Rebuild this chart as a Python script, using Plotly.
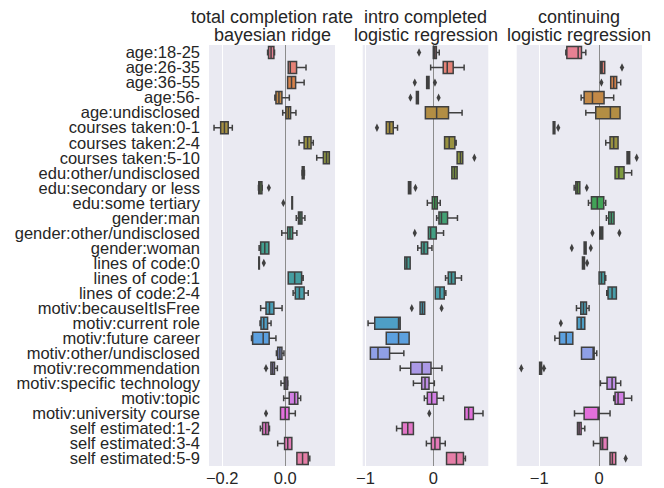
import math
import colorsys
import plotly.graph_objects as go

# ---------------- data ----------------
categories = [
    "age:18-25", "age:26-35", "age:36-55", "age:56-", "age:undisclosed",
    "courses taken:0-1", "courses taken:2-4", "courses taken:5-10",
    "edu:other/undisclosed", "edu:secondary or less", "edu:some tertiary",
    "gender:man", "gender:other/undisclosed", "gender:woman",
    "lines of code:0", "lines of code:1", "lines of code:2-4",
    "motiv:becauseItIsFree", "motiv:current role", "motiv:future career",
    "motiv:other/undisclosed", "motiv:recommendation", "motiv:specific technology",
    "motiv:topic", "motiv:university course",
    "self estimated:1-2", "self estimated:3-4", "self estimated:5-9",
]

titles = [
    ["total completion rate", "bayesian ridge"],
    ["intro completed", "logistic regression"],
    ["continuing", "logistic regression"],
]

# panel 1: total completion rate / bayesian ridge
p1_low = [-0.056, 0.0095, 0.0075, -0.033, -0.008, -0.226, 0.044, 0.100, 0.053, -0.085, 0.021, 0.035, -0.011, -0.083,
          -0.084, 0.0095, 0.025, -0.078, -0.080, -0.107, -0.028, -0.0455, -0.0135, -0.005, -0.015, -0.079, -0.024, 0.037]
p1_q1 = [-0.053, 0.0095, 0.0075, -0.0295, 0.002, -0.205, 0.060, 0.121, 0.054, -0.084, 0.021, 0.042, 0.0075, -0.078,
         -0.084, 0.0095, 0.032, -0.061, -0.077, -0.1035, -0.024, -0.0455, -0.003, 0.0127, -0.015, -0.072, -0.002, 0.037]
p1_med = [-0.045, 0.016, 0.020, -0.020, 0.010, -0.193, 0.071, 0.131, 0.057, -0.080, 0.022, 0.047, 0.015, -0.065,
          -0.083, 0.030, 0.045, -0.050, -0.068, -0.070, -0.017, -0.040, 0.002, 0.030, 0.000, -0.062, 0.008, 0.055]
p1_q3 = [-0.036, 0.036, 0.033, -0.0105, 0.017, -0.181, 0.082, 0.140, 0.060, -0.074, 0.023, 0.053, 0.0235, -0.052,
         -0.082, 0.052, 0.060, -0.036, -0.056, -0.051, -0.0105, -0.034, 0.0075, 0.040, 0.012, -0.053, 0.021, 0.073]
p1_high = [-0.034, 0.066, 0.060, 0.013, 0.034, -0.168, 0.089, 0.140, 0.061, -0.073, 0.023, 0.0625, 0.037, -0.052,
           -0.082, 0.057, 0.073, -0.010, -0.045, -0.0295, -0.004, -0.025, 0.0085, 0.049, 0.032, -0.050, 0.021, 0.078]
p1_out_cat = [9, 10, 14, 21, 24]
p1_out_val = [-0.052, -0.006, -0.068, -0.061, -0.061]

# panel 2: intro completed / logistic regression
p2_low = [0.0, -0.039, -0.098, -0.249, -0.117, -0.693, 0.166, 0.351, 0.273, -0.366, -0.088, 0.049, -0.073, -0.229,
          -0.42, 0.18, 0.029, -0.195, -0.961, -0.693, -0.927, -0.488, -0.293, -0.132, 0.463, -0.541, -0.102, 0.195]
p2_q1 = [0.0, 0.146, -0.098, -0.249, -0.117, -0.693, 0.166, 0.351, 0.273, -0.366, -0.015, 0.083, -0.073, -0.176,
         -0.42, 0.22, 0.029, -0.195, -0.863, -0.693, -0.927, -0.332, -0.171, -0.088, 0.463, -0.459, -0.029, 0.195]
p2_med = [0.02, 0.205, -0.08, -0.235, 0.049, -0.644, 0.234, 0.40, 0.312, -0.35, 0.02, 0.12, -0.039, -0.137,
          -0.39, 0.268, 0.098, -0.16, -0.512, -0.512, -0.815, -0.166, -0.122, -0.024, 0.52, -0.376, 0.024, 0.341]
p2_q3 = [0.045, 0.293, -0.063, -0.22, 0.224, -0.59, 0.317, 0.434, 0.351, -0.332, 0.059, 0.21, 0.044, -0.083,
         -0.341, 0.322, 0.161, -0.127, -0.488, -0.356, -0.644, -0.034, -0.063, 0.054, 0.59, -0.293, 0.098, 0.444]
p2_high = [0.088, 0.454, -0.063, -0.22, 0.424, -0.527, 0.337, 0.434, 0.351, -0.332, 0.102, 0.356, 0.151, -0.02,
           -0.341, 0.415, 0.185, -0.127, -0.488, -0.356, -0.434, 0.127, 0.015, 0.151, 0.732, -0.293, 0.176, 0.473]
p2_out_cat = [0, 2, 2, 3, 3, 5, 7, 9, 12, 17, 17, 24]
p2_out_val = [-0.21, -0.273, 0.024, -0.337, 0.078, -0.83, 0.605, -0.263, -0.273, -0.317, 0.122, -0.059]

# panel 3: continuing / logistic regression
p3_low = [-0.556, 0.028, 0.194, -0.3, -0.222, -0.767, 0.111, 0.467, 0.267, -0.417, -0.178, 0.122, 0.011, -0.25,
          -0.278, 0.0, 0.128, -0.378, -0.367, -0.739, -0.294, -0.994, 0.022, 0.244, -0.411, -0.361, -0.094, 0.183]
p3_q1 = [-0.539, 0.028, 0.194, -0.25, -0.056, -0.767, 0.183, 0.467, 0.267, -0.389, -0.128, 0.161, 0.011, -0.25,
         -0.278, 0.0, 0.15, -0.306, -0.367, -0.661, -0.294, -0.994, 0.133, 0.267, -0.25, -0.361, 0.028, 0.183]
p3_med = [-0.35, 0.05, 0.244, -0.111, 0.189, -0.75, 0.244, 0.49, 0.33, -0.36, -0.03, 0.205, 0.035, -0.235,
          -0.26, 0.04, 0.217, -0.261, -0.3, -0.55, -0.1, -0.98, 0.217, 0.317, 0.0, -0.333, 0.06, 0.222]
p3_q3 = [-0.294, 0.094, 0.294, 0.083, 0.35, -0.739, 0.317, 0.511, 0.417, -0.322, 0.078, 0.25, 0.061, -0.217,
         -0.244, 0.094, 0.289, -0.211, -0.239, -0.439, -0.083, -0.961, 0.278, 0.417, 0.0, -0.3, 0.139, 0.278]
p3_high = [-0.222, 0.094, 0.361, 0.244, 0.35, -0.739, 0.317, 0.511, 0.544, -0.322, 0.111, 0.25, 0.061, -0.217,
           -0.244, 0.111, 0.289, -0.167, -0.239, -0.439, -0.039, -0.961, 0.361, 0.544, 0.183, -0.239, 0.139, 0.278]
p3_out_cat = [1, 2, 5, 7, 9, 12, 12, 13, 13, 14, 18, 21, 21, 27]
p3_out_val = [0.383, 0.039, -0.683, 0.628, -0.206, -0.111, 0.339, -0.456, -0.139, -0.2, -0.639, -1.3, -0.922, 0.444]

x_ranges = [[-0.242, 0.158], [-1.04, 0.81], [-1.377, 0.717]]
x_tickvals = [[-0.2, 0.0], [-1, 0], [-1, 0]]
x_ticktext = [["\u22120.2", "0.0"], ["\u22121", "0"], ["\u22121", "0"]]

# ---------------- seaborn-like husl palette ----------------
M = [[3.2406, -1.5372, -0.4986], [-0.9689, 1.8758, 0.0415], [0.0557, -0.2040, 1.0570]]
REF_U, REF_V = 0.19784, 0.46834


def max_chroma(L, H):
    hrad = math.radians(H)
    sinH, cosH = math.sin(hrad), math.cos(hrad)
    sub1 = (L + 16) ** 3 / 1560896.0
    sub2 = sub1 if sub1 > 0.008856 else L / 903.3
    result = float("inf")
    for m1, m2, m3 in M:
        top = (0.99915 * m1 + 1.05122 * m2 + 1.14460 * m3) * sub2
        rbottom = 0.86330 * m3 - 0.17266 * m2
        lbottom = 0.12949 * m3 - 0.38848 * m1
        bottom = (rbottom * sinH + lbottom * cosH) * sub2
        for t in (0.0, 1.0):
            C = L * (top - 1.05122 * t) / (bottom + 0.17266 * sinH * t)
            if 0.0 < C < result:
                result = C
    return result


def husl_to_rgb(H, S, L):
    C = max_chroma(L, H) / 100.0 * S
    U = C * math.cos(math.radians(H))
    V = C * math.sin(math.radians(H))
    t = (L + 16) / 116.0
    varY = t ** 3 if t ** 3 > 0.008856 else (116 * t - 16) / 903.3
    varU = U / (13 * L) + REF_U
    varV = V / (13 * L) + REF_V
    Y = varY
    X = -(9 * Y * varU) / ((varU - 4) * varV - varU * varV)
    Z = (9 * Y - 15 * varV * Y - varV * X) / (3 * varV)
    out = []
    for row in M:
        c = row[0] * X + row[1] * Y + row[2] * Z
        c = 12.92 * c if c <= 0.0031308 else 1.055 * c ** (1 / 2.4) - 0.055
        out.append(min(1.0, max(0.0, c)))
    return out


n = len(categories)
colors_rgb = []
for i in range(n):
    h = ((i / n) + 0.01) % 1 * 359
    r, g, b = husl_to_rgb(h, 0.9 * 99, 0.65 * 99)
    hh, ll, ss = colorsys.rgb_to_hls(r, g, b)
    colors_rgb.append(colorsys.hls_to_rgb(hh, ll, ss * 0.75))
lum = min(colorsys.rgb_to_hls(*c)[1] for c in colors_rgb) * 0.6
gray = "rgb(%d,%d,%d)" % ((round(lum * 255),) * 3)
colors = ["rgb(%d,%d,%d)" % tuple(round(v * 255) for v in c) for c in colors_rgb]

# ---------------- figure ----------------
FONT = "Liberation Sans, Arial, sans-serif"
TEXT = "#262626"
fig = go.Figure()

panels = [
    (p1_low, p1_q1, p1_med, p1_q3, p1_high, p1_out_cat, p1_out_val),
    (p2_low, p2_q1, p2_med, p2_q3, p2_high, p2_out_cat, p2_out_val),
    (p3_low, p3_q1, p3_med, p3_q3, p3_high, p3_out_cat, p3_out_val),
]
for p, (lo, q1, med, q3, hi, oc, ov) in enumerate(panels):
    xa = "x" if p == 0 else "x%d" % (p + 1)
    ya = "y" if p == 0 else "y%d" % (p + 1)
    for i, cat in enumerate(categories):
        fig.add_trace(go.Box(
            orientation="h", y=[cat], q1=[q1[i]], median=[med[i]], q3=[q3[i]],
            lowerfence=[lo[i]], upperfence=[hi[i]],
            fillcolor=colors[i], line=dict(color=gray, width=1.5),
            width=0.8, whiskerwidth=0.5, boxpoints=False,
            xaxis=xa, yaxis=ya, showlegend=False,
        ))
    fig.add_trace(go.Scatter(
        x=ov, y=[categories[c] for c in oc], mode="markers",
        marker=dict(symbol="diamond-tall", size=6, color=gray),
        xaxis=xa, yaxis=ya, showlegend=False,
    ))

domains = [[0.0, 0.291], [0.355, 0.645], [0.7106, 1.0]]
for p in range(3):
    sfx = "" if p == 0 else str(p + 1)
    fig.layout["xaxis" + sfx] = dict(
        domain=domains[p], range=x_ranges[p], tickmode="array",
        tickvals=x_tickvals[p], ticktext=x_ticktext[p],
        showgrid=True, gridcolor="white", gridwidth=1,
        zeroline=True, zerolinecolor="#8c8c8c", zerolinewidth=1.3,
        showline=False, ticks="", automargin=False,
        tickfont=dict(size=16.5, color=TEXT, family=FONT),
        anchor="y" + sfx,
    )
    fig.layout["yaxis" + sfx] = dict(
        type="category", categoryorder="array", categoryarray=categories,
        tickmode="array", tickvals=categories, ticktext=categories,
        range=[n - 0.5, -0.5], showgrid=False, zeroline=False, showline=False,
        ticks="", showticklabels=(p == 0), ticklabelstandoff=8, automargin=False,
        tickfont=dict(size=16.5, color=TEXT, family=FONT),
        anchor="x" + sfx,
    )
    if p > 0:
        fig.layout["yaxis" + sfx]["matches"] = "y"
    cx = (domains[p][0] + domains[p][1]) / 2
    fig.add_annotation(text=titles[p][0], x=cx, y=1.067, xref="paper", yref="paper",
                       xanchor="center", yanchor="middle", showarrow=False,
                       font=dict(size=18, color=TEXT, family=FONT))
    fig.add_annotation(text=titles[p][1], x=cx, y=1.024, xref="paper", yref="paper",
                       xanchor="center", yanchor="middle", showarrow=False,
                       font=dict(size=18, color=TEXT, family=FONT))

# the page body adds an 8px offset, so the figure is 8px smaller than the window
fig.update_layout(
    width=656, height=480,
    margin=dict(l=201, r=22, t=37, b=22),
    paper_bgcolor="white", plot_bgcolor="#EAEAF2",
    boxmode="overlay", font=dict(family=FONT, color=TEXT),
)

fig.write_html("out.html")
